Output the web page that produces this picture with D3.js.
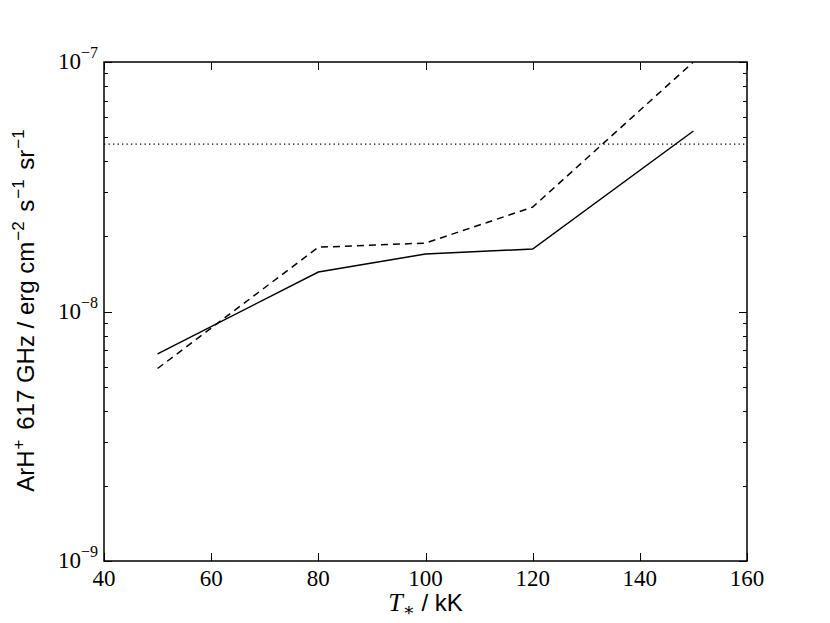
<!DOCTYPE html>
<html><head><meta charset="utf-8">
<script src="https://cdn.jsdelivr.net/npm/d3@7"></script>
<style>body{margin:0;background:#fff}</style>
</head><body>
<svg id="c" width="830" height="623"></svg>
<script>
const temps = [50, 80, 100, 120, 150];
const solidValues = [6.76e-9, 1.44e-8, 1.70e-8, 1.78e-8, 5.29e-8];
const dashedValues = [5.91e-9, 1.81e-8, 1.88e-8, 2.62e-8, 1.0e-7];
const observedValue = 4.69e-8;
const xTicks = [40, 60, 80, 100, 120, 140, 160];
const yMajorExps = [-9, -8, -7];

const svg = d3.select("#c");
const L = 104, R = 747, T = 62, B = 561;
const x = d3.scaleLinear().domain([40, 160]).range([L, R]);
const y = d3.scaleLog().domain([1e-9, 1e-7]).range([B, T]);

svg.append("defs").append("clipPath").attr("id", "clip")
  .append("rect").attr("x", L).attr("y", T).attr("width", R - L).attr("height", B - T);

const g = svg.append("g").attr("clip-path", "url(#clip)");
const line = d3.line().x(d => x(d[0])).y(d => y(d[1]));

g.append("path").datum(temps.map((t, i) => [t, solidValues[i]]))
  .attr("d", line).attr("fill", "none").attr("stroke", "#000").attr("stroke-width", 1.5);
g.append("path").datum(temps.map((t, i) => [t, dashedValues[i]]))
  .attr("d", line).attr("fill", "none").attr("stroke", "#000").attr("stroke-width", 1.5)
  .attr("stroke-dasharray", "7,5");
g.append("line").attr("x1", L).attr("x2", R).attr("y1", y(observedValue)).attr("y2", y(observedValue))
  .attr("stroke", "#000").attr("stroke-width", 1.3).attr("stroke-dasharray", "1.3,3.2");

const tk = svg.append("g").attr("stroke", "#000").attr("stroke-width", 1);
xTicks.forEach(v => {
  const px = Math.round(x(v)) + 0.5;
  tk.append("line").attr("x1", px).attr("x2", px).attr("y1", B).attr("y2", B - 8);
  tk.append("line").attr("x1", px).attr("x2", px).attr("y1", T).attr("y2", T + 8);
});
const yMinor = [];
for (let e = -9; e < -7; e++) for (let m = 2; m <= 9; m++) yMinor.push(m * Math.pow(10, e));
yMinor.forEach(v => {
  const py = Math.round(y(v)) + 0.5;
  tk.append("line").attr("x1", L).attr("x2", L + 4).attr("y1", py).attr("y2", py);
  tk.append("line").attr("x1", R).attr("x2", R - 4).attr("y1", py).attr("y2", py);
});
yMajorExps.forEach(e => {
  const py = Math.round(y(Math.pow(10, e))) + 0.5;
  tk.append("line").attr("x1", L).attr("x2", L + 8).attr("y1", py).attr("y2", py);
  tk.append("line").attr("x1", R).attr("x2", R - 8).attr("y1", py).attr("y2", py);
});

svg.append("rect").attr("x", L).attr("y", T).attr("width", R - L).attr("height", B - T)
  .attr("fill", "none").attr("stroke", "#000").attr("stroke-width", 1.5);

const serif = "'Liberation Serif', 'DejaVu Serif', serif";
xTicks.forEach(v => {
  svg.append("text").attr("x", x(v)).attr("y", B + 25).attr("text-anchor", "middle")
    .attr("font-family", serif).attr("font-size", 23).text(v);
});
yMajorExps.forEach(e => {
  const t = svg.append("text").attr("x", L - 6).attr("y", y(Math.pow(10, e)) + 7)
    .attr("text-anchor", "end").attr("font-family", serif).attr("font-size", 23);
  t.append("tspan").text("10");
  t.append("tspan").attr("dy", -11).attr("font-size", 16).text("\u2212" + (-e));
});

const sans = "'Liberation Sans', Arial, sans-serif";
const xl = svg.append("text").attr("x", x(100)).attr("y", 611).attr("text-anchor", "middle")
  .attr("font-family", sans).attr("font-size", 24);
xl.append("tspan").attr("font-family", serif).attr("font-style", "italic").attr("font-size", 26).text("T");
xl.append("tspan").attr("font-family", serif).attr("font-size", 18).attr("dy", 5).text("\u2217");
xl.append("tspan").attr("dy", -5).text(" / kK");

const yl = svg.append("text").attr("transform", `translate(34, ${(T + B) / 2 + 2}) rotate(-90)`)
  .attr("text-anchor", "middle").attr("font-family", sans).attr("font-size", 24);
const parts = [["ArH", 0], ["+", 1], [" 617 GHz / erg cm", 0], ["\u22122", 1], [" s", 0], ["\u22121", 1], [" sr", 0], ["\u22121", 1]];
let prev = 0;
parts.forEach(([s, sup]) => {
  const dy = sup ? -10 : 0;
  yl.append("tspan").attr("dy", dy - prev).attr("font-size", sup ? 17 : 24)
    .attr("dx", sup ? 1 : 3).text(s);
  prev = dy;
});
</script>
</body></html>
